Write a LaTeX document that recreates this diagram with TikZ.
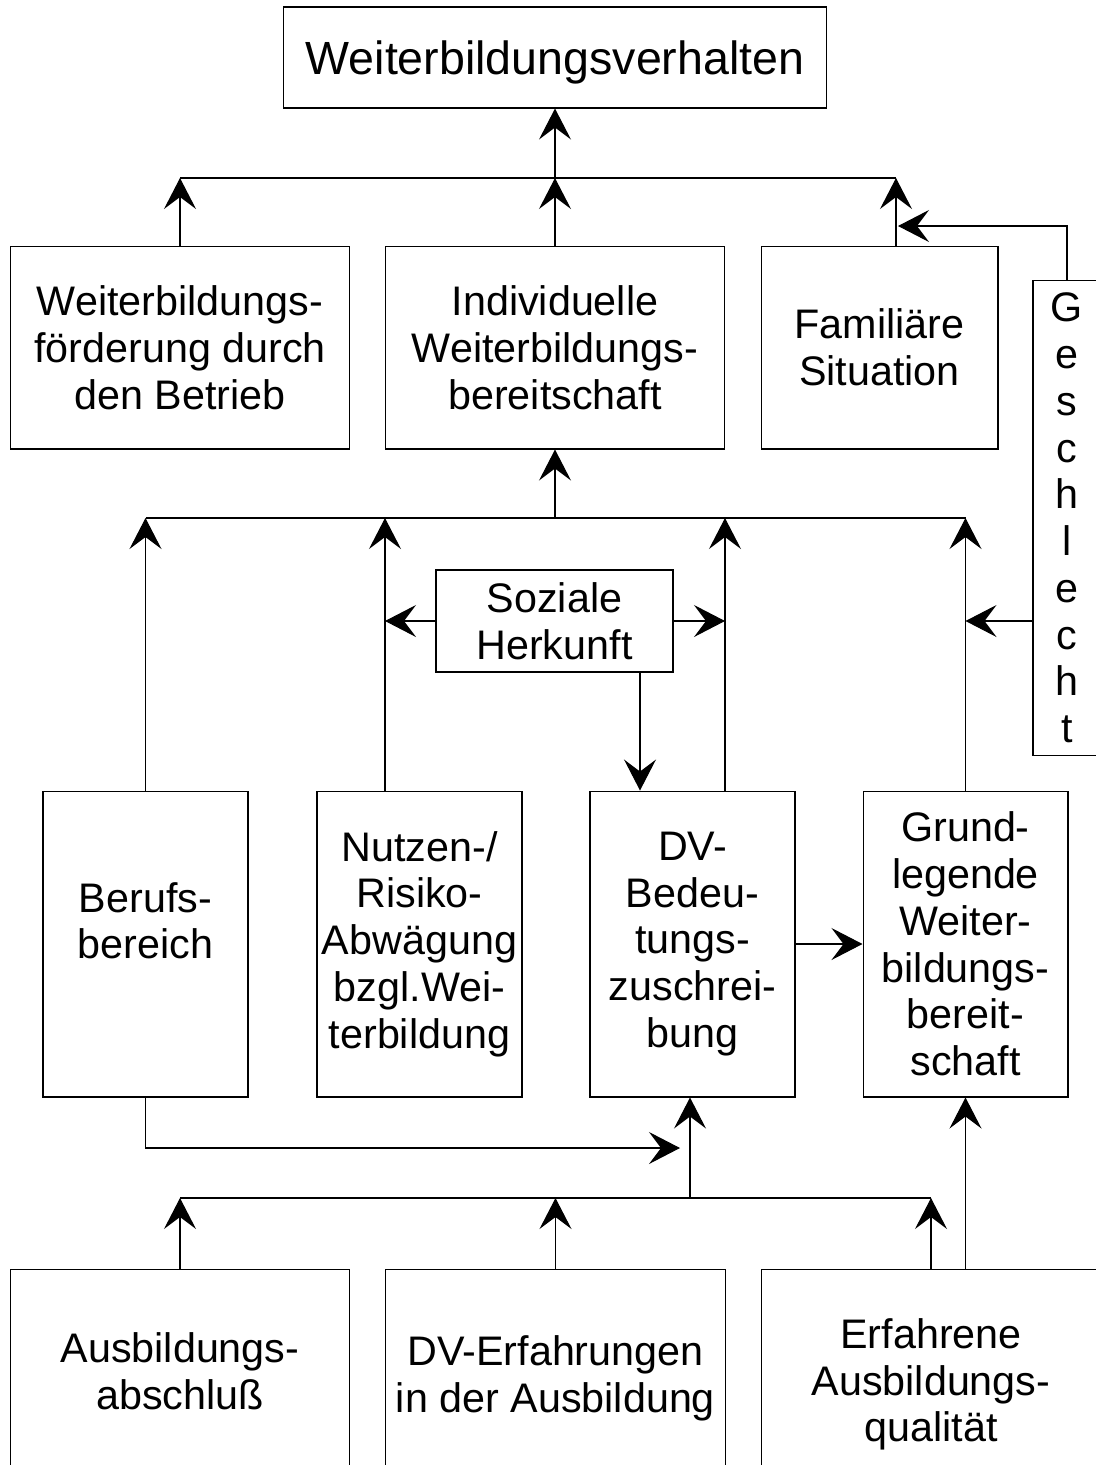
\documentclass[tikz,border=0pt]{standalone}
\usepackage{fontspec}
\setmainfont{Liberation Sans}
\usepackage{tikz}
\usetikzlibrary{arrows.meta}

\begin{document}
\begin{tikzpicture}[x=0.02cm, y=-0.02cm, line width=0.6pt,
    box/.style={draw, align=center, inner sep=0pt, font=\fontsize{23.5}{26.6}\selectfont},
    spalte/.style={box, minimum width=4.1cm, minimum height=6.12cm},
    breit/.style={box, minimum width=6.8cm, anchor=north},
    pfeil/.style={-{Stealth[length=6.2mm, width=6.4mm, inset=2.4mm]}}]
    \clip (0,0) rectangle (1096,1465);

    \node[box, minimum width=10.88cm, minimum height=2.02cm, text depth=0pt, font=\fontsize{26.5}{30}\selectfont] (verhalten) at (555,57.5) {Weiterbildungsverhalten};

    \node[box, minimum width=6.8cm, minimum height=4.06cm] (foerderung) at (180,347.5) {Weiterbildungs-\\förderung durch\\den Betrieb};
    \node[box, minimum width=6.78cm, minimum height=4.06cm] (bereitschaft) at (555,347.5) {Individuelle\\Weiterbildungs-\\bereitschaft};
    \node[box, minimum width=4.74cm, minimum height=4.06cm] (familie) at (879.5,347.5) {Familiäre\\Situation};
    \node[box, minimum width=1.36cm, minimum height=9.52cm] (geschlecht) at (1067,518) {G\\e\\s\\c\\h\\l\\e\\c\\h\\t};
    \node[box, minimum width=4.74cm, minimum height=2.04cm] (herkunft) at (554.5,621) {Soziale\\Herkunft};

    \node[spalte] (beruf) at (145.5,944) {Berufs-\\bereich\\ \mbox{}};
    \node[spalte] (nutzen) at (419.5,944) {Nutzen-/\\Risiko-\\Abwägung\\bzgl.Wei-\\terbildung};
    \node[spalte] (bedeutung) at (692.5,944) {DV-\\Bedeu-\\tungs-\\zuschrei-\\bung};
    \node[spalte] (grund) at (965.5,944) {Grund-\\legende\\Weiter-\\bildungs-\\bereit-\\schaft};

    \node[breit, minimum height=4.08cm] (abschluss) at (180,1269) {Ausbildungs-\\abschluß};
    \node[breit, minimum height=4.36cm] (erfahrungen) at (555.5,1269) {DV-Erfahrungen\\in der Ausbildung};
    \node[breit, minimum height=4.6cm] (qualitaet) at (931,1269) {Erfahrene\\Ausbildungs-\\qualität};

    % obere Ebene
    \coordinate (o1) at (555,178);
    \coordinate (fam) at (896,178);
    \coordinate (g1) at (898,226);
    \draw (foerderung.north |- o1) -- (fam);
    \draw[pfeil] (o1) -- (verhalten.south);
    \draw[pfeil] (foerderung.north) -- (foerderung.north |- o1);
    \draw[pfeil] (bereitschaft.north) -- (o1);
    \draw[pfeil] (fam |- familie.north) -- (fam);
    \draw[pfeil] (geschlecht.north) |- (g1);

    % mittlere Ebene
    \coordinate (o2) at (555,518);
    \coordinate (n1) at (385,518);
    \coordinate (d1) at (725,518);
    \coordinate (h1) at (640,672);
    \draw (beruf.north |- o2) -- (grund.north |- o2);
    \draw[pfeil] (o2) -- (bereitschaft.south);
    \draw[pfeil] (beruf.north) -- (beruf.north |- o2);
    \draw[pfeil] (nutzen.north -| n1) -- (n1);
    \draw[pfeil] (bedeutung.north -| d1) -- (d1);
    \draw[pfeil] (grund.north) -- (grund.north |- o2);
    \draw[pfeil] (herkunft.west) -- (herkunft.west -| n1);
    \draw[pfeil] (herkunft.east) -- (herkunft.east -| d1);
    \draw[pfeil] (herkunft.south -| h1) -- (bedeutung.north -| h1);
    \draw[pfeil] (geschlecht.west |- herkunft) -- (grund.north |- herkunft);
    \draw[pfeil] (bedeutung.east) -- (grund.west);

    % untere Ebene
    \coordinate (u1) at (680,1148);
    \coordinate (u2) at (690,1198);
    \coordinate (u3) at (931,1198);
    \draw[pfeil] (beruf.south) |- (u1);
    \draw (abschluss.north |- u2) -- (u3);
    \draw[pfeil] (u2) -- (bedeutung.south -| u2);
    \draw[pfeil] (abschluss.north) -- (abschluss.north |- u2);
    \draw[pfeil] (erfahrungen.north) -- (erfahrungen.north |- u2);
    \draw[pfeil] (qualitaet.north -| u3) -- (u3);
    \draw[pfeil] (qualitaet.north -| grund.south) -- (grund.south);
\end{tikzpicture}
\end{document}
